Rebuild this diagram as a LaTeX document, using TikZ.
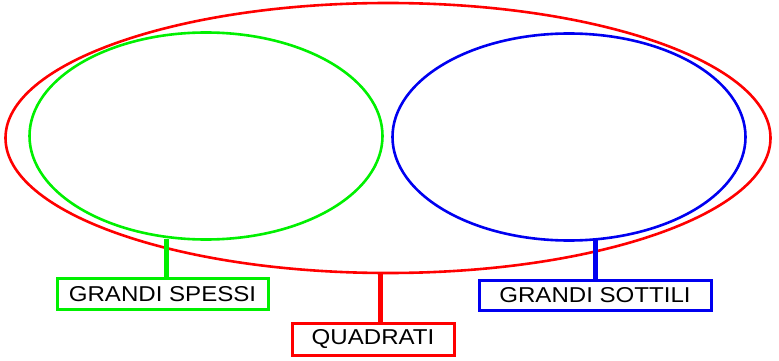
\documentclass[tikz,border=0pt]{standalone}
\usepackage{fontspec}
\newfontfamily\lab[FakeStretch=1.12]{Liberation Sans}
\usetikzlibrary{shapes.geometric}
\begin{document}
\begin{tikzpicture}[x=1pt,y=-1pt,
  set/.style={draw,ellipse,line width=2.6pt,inner sep=0pt},
  labelbox/.style={draw,rectangle,line width=3pt,fill=white,inner sep=0pt,font=\lab\fontsize{21.5}{25}\selectfont,text=black},
  conn/.style={line width=5pt}]
\useasboundingbox (0,0) rectangle (779,361);
\definecolor{myred}{RGB}{255,0,0}
\definecolor{mygreen}{RGB}{0,240,0}
\definecolor{myblue}{RGB}{0,0,240}
\node[set,draw=myred,minimum width=765pt,minimum height=270pt] (all) at (388,138) {};
\node[set,draw=mygreen,minimum width=353pt,minimum height=207pt] (gs) at (206,136) {};
\node[set,draw=myblue,minimum width=353pt,minimum height=207pt] (gt) at (569,137) {};
\node[labelbox,draw=mygreen,minimum width=211pt,minimum height=31pt] (bgs) at (162.5,294) {GRANDI SPESSI};
\node[labelbox,draw=myblue,minimum width=232pt,minimum height=30pt] (bgt) at (595,295.5) {GRANDI SOTTILI};
\node[labelbox,draw=myred,minimum width=162pt,minimum height=32pt] (bq) at (373,339.5) {QUADRATI};
\coordinate (cg) at (166,239);
\coordinate (cb) at (595,240);
\coordinate (cr) at (380,272);
\draw[conn,draw=mygreen] (cg) -- (cg |- bgs.north);
\draw[conn,draw=myblue] (cb) -- (cb |- bgt.north);
\draw[conn,draw=myred] (cr) -- (cr |- bq.north);
\end{tikzpicture}
\end{document}
